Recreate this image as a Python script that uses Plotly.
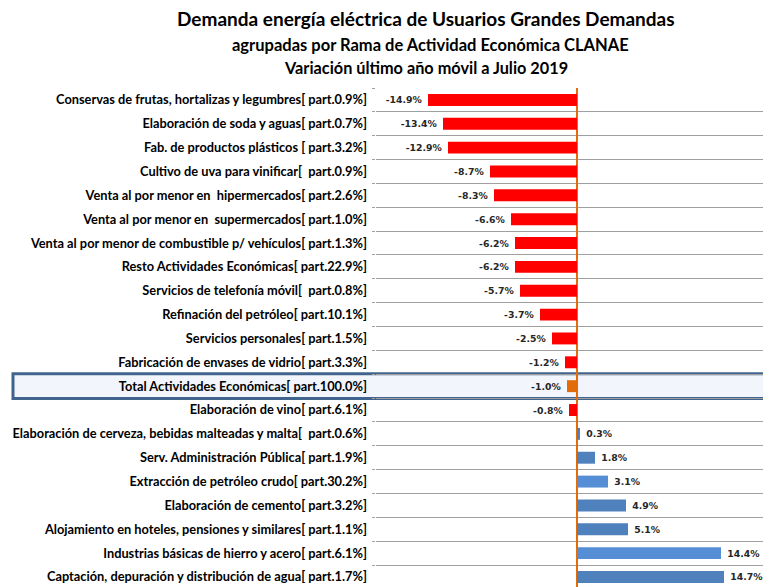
import plotly.graph_objects as go

categories = [
    "Conservas de frutas, hortalizas y legumbres[ part.0.9%]",
    "Elaboración de soda y aguas[ part.0.7%]",
    "Fab. de productos plásticos [ part.3.2%]",
    "Cultivo de uva para vinificar[  part.0.9%]",
    "Venta al por menor en  hipermercados[ part.2.6%]",
    "Venta al por menor en  supermercados[ part.1.0%]",
    "Venta al por menor de combustible p/ vehículos[ part.1.3%]",
    "Resto Actividades Económicas[ part.22.9%]",
    "Servicios de telefonía móvil[  part.0.8%]",
    "Refinación del petróleo[ part.10.1%]",
    "Servicios personales[ part.1.5%]",
    "Fabricación de envases de vidrio[ part.3.3%]",
    "Total Actividades Económicas[ part.100.0%]",
    "Elaboración de vino[ part.6.1%]",
    "Elaboración de cerveza, bebidas malteadas y malta[  part.0.6%]",
    "Serv. Administración Pública[ part.1.9%]",
    "Extracción de petróleo crudo[ part.30.2%]",
    "Elaboración de cemento[ part.3.2%]",
    "Alojamiento en hoteles, pensiones y similares[ part.1.1%]",
    "Industrias básicas de hierro y acero[ part.6.1%]",
    "Captación, depuración y distribución de agua[ part.1.7%]",
]
values = [-14.9, -13.4, -12.9, -8.7, -8.3, -6.6, -6.2, -6.2, -5.7, -3.7, -2.5,
          -1.2, -1.0, -0.8, 0.3, 1.8, 3.1, 4.9, 5.1, 14.4, 14.7]
bar_colors = ["#FF0000"] * 12 + ["#E36C0A", "#FF0000"] + [
    "#4F81BD", "#4F81BD", "#558ED5", "#4F81BD", "#4F81BD", "#558ED5", "#4F81BD"]
highlight = "Total Actividades Económicas[ part.100.0%]"

labels = [(f"{v:.1f}% " if v < 0 else f" {v:.1f}%") for v in values]

FONT = "Lato, Open Sans, sans-serif"

fig = go.Figure()
fig.add_trace(go.Bar(
    y=categories, x=values, orientation="h",
    marker=dict(color=bar_colors, line=dict(width=0)),
    text=labels, textposition="outside", cliponaxis=False,
    textfont=dict(family="DejaVu Sans", size=9.3, color="#262626", weight="bold"),
    width=0.5,
))

hi_idx = categories.index(highlight)
fig.add_shape(type="rect", xref="paper", yref="y",
              x0=-0.919, x1=1.02, y0=hi_idx - 0.52, y1=hi_idx + 0.52,
              fillcolor="#F2F5FB", line=dict(color="#41648F", width=3),
              layer="below")

fig.update_layout(
    width=763, height=579,
    margin=dict(l=368, r=0, t=80, b=0),
    paper_bgcolor="white", plot_bgcolor="white",
    showlegend=False,
    font=dict(family=FONT, color="#000000"),
    xaxis=dict(range=[-20.1, 19.4], showgrid=False, showticklabels=False,
               zeroline=True, zerolinecolor="#E36C0A", zerolinewidth=1.5,
               fixedrange=True, automargin=False),
    yaxis=dict(type="category", range=[20.42, -0.5], tickson="boundaries",
               showgrid=True, gridcolor="#A0A0A0", gridwidth=1,
               ticks="outside", ticklen=3, tickcolor="#A0A0A0",
               tickfont=dict(family=FONT, size=12.8, color="#000000", weight="bold"),
               ticklabelstandoff=8, fixedrange=True, automargin=False),
)

titles = [
    ("<b>Demanda energía eléctrica de Usuarios Grandes Demandas</b>", 18, 418, 19),
    ("<b>agrupadas por Rama de Actividad Económica CLANAE</b>", 45, 422, 16.5),
    ("<b>Variación último año móvil a Julio 2019</b>", 67, 418, 16.3),
]
for txt, ypx, xpx, sz in titles:
    fig.add_annotation(text=txt, xref="paper", yref="paper",
                       x=(xpx - 368) / 395, y=1 + (88 - ypx) / 499,
                       xanchor="center", yanchor="middle", showarrow=False,
                       font=dict(family=FONT, size=sz, color="#000000"))

fig.write_html("out.html")
